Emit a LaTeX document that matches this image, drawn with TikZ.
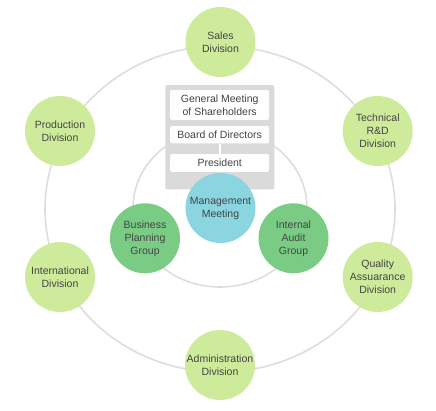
\documentclass[tikz,border=0pt]{standalone}
\usepackage{fontspec}
\setmainfont{Liberation Sans}
\definecolor{lgreen}{HTML}{CDEB9B}
\definecolor{dgreen}{HTML}{7ACC85}
\definecolor{cyanc}{HTML}{8AD5E0}
\definecolor{boxgray}{HTML}{DADADA}
\definecolor{ringgray}{HTML}{DDDDDD}
\definecolor{txt}{HTML}{444444}
\begin{document}
\begin{tikzpicture}[x=1pt,y=-1pt,
  ring/.style={draw=ringgray, line width=1.6pt},
  circ/.style={circle, minimum size=70pt, inner sep=0pt, align=center, text=txt,
    font=\fontsize{10.5}{13}\selectfont},
  div/.style={circ, fill=lgreen},
  grp/.style={circ, fill=dgreen},
  mgmt/.style={circ, fill=cyanc},
  panel/.style={fill=boxgray, rounded corners=2pt, inner sep=0pt},
  wbox/.style={fill=white, rounded corners=1.5pt, minimum width=99pt, inner sep=0pt,
    align=center, text=txt, font=\fontsize{10.5}{13}\selectfont},
  link/.style={draw=white, line width=2pt}]
\useasboundingbox (0,0) rectangle (436,410);
% rings
\coordinate (ctr) at (220,209);
\draw[ring] (ctr) ellipse [x radius=175pt, y radius=163pt];
\draw[ring] (220,208) ellipse [x radius=87pt, y radius=79pt];
% governance panel
\node[panel, minimum width=109pt, minimum height=104.3pt] (panel) at (219.8,137.2) {};
\node[wbox, minimum height=30pt] (gm) at (219.7,105) {General Meeting\\of Shareholders};
\node[wbox, minimum height=17.3pt] (board) at (219.7,134.7) {Board of Directors};
\node[wbox, minimum height=17.7pt] (pres) at (219.7,162.9) {President};
\draw[link] (board.south) -- (pres.north);
% inner circles
\node[mgmt] (mm) at (220.5,208) {Management\\Meeting};
\node[grp] (bpg) at (145,238.3) {Business\\Planning\\Group};
\node[grp] (iag) at (293.5,238.3) {Internal\\Audit\\Group};
% divisions
\node[div] (sales) at (220.5,42) {Sales\\Division};
\node[div] (tech) at (377.7,131) {Technical\\R\&D\\Division};
\node[div] (qa) at (377.7,277) {Quality\\Assuarance\\Division};
\node[div] (adm) at (220,365) {Administration\\Division};
\node[div] (intl) at (60,277) {International\\Division};
\node[div] (prod) at (60,131) {Production\\Division};
\end{tikzpicture}
\end{document}
